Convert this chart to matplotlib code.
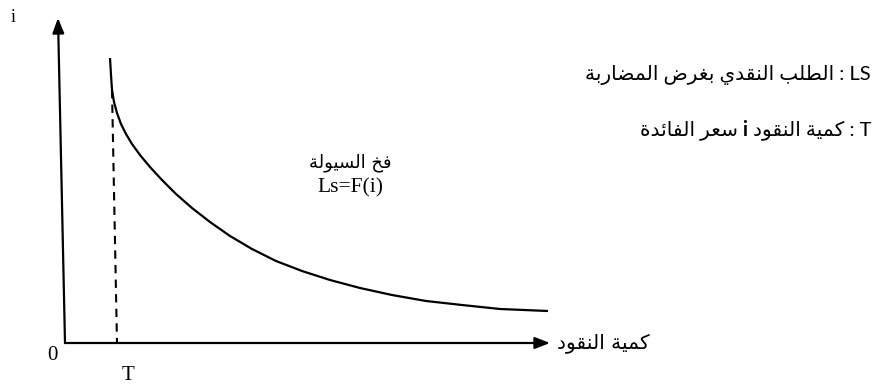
import matplotlib
matplotlib.use("Agg")
import matplotlib.pyplot as plt

# liquidity-trap curve (units = px from the origin)
money = [45, 46, 47, 49, 52, 56, 61, 67, 75, 85, 97, 111, 127, 145, 165, 187, 211,
         237, 265, 295, 327, 361, 397, 435, 483]
rate = [285, 268, 253, 241, 230, 219, 209, 199, 188, 176, 163, 149, 135, 121, 107, 94,
        82, 72, 63, 55, 48, 42, 38, 34, 32]
T_value = 52
axis_len_x = 485
axis_len_y = 325

x_label = "كمية النقود"
y_label = "i"
curve_name = "فخ السيولة"
curve_eq = "Ls=F(i)"
note_ls = "الطلب النقدي بغرض المضاربة"
note_t1 = "كمية النقود"
note_t2 = "سعر الفائدة"

# simple arabic shaping (presentation forms B) + reversal for LTR drawing
FORMS = {
    'ا': (0xFE8D, 0xFE8E, None, None),
    'ب': (0xFE8F, 0xFE90, 0xFE91, 0xFE92),
    'ة': (0xFE93, 0xFE94, None, None),
    'خ': (0xFEA5, 0xFEA6, 0xFEA7, 0xFEA8),
    'د': (0xFEA9, 0xFEAA, None, None),
    'ر': (0xFEAD, 0xFEAE, None, None),
    'س': (0xFEB1, 0xFEB2, 0xFEB3, 0xFEB4),
    'ض': (0xFEBD, 0xFEBE, 0xFEBF, 0xFEC0),
    'ط': (0xFEC1, 0xFEC2, 0xFEC3, 0xFEC4),
    'ع': (0xFEC9, 0xFECA, 0xFECB, 0xFECC),
    'غ': (0xFECD, 0xFECE, 0xFECF, 0xFED0),
    'ف': (0xFED1, 0xFED2, 0xFED3, 0xFED4),
    'ق': (0xFED5, 0xFED6, 0xFED7, 0xFED8),
    'ك': (0xFED9, 0xFEDA, 0xFEDB, 0xFEDC),
    'ل': (0xFEDD, 0xFEDE, 0xFEDF, 0xFEE0),
    'م': (0xFEE1, 0xFEE2, 0xFEE3, 0xFEE4),
    'ن': (0xFEE5, 0xFEE6, 0xFEE7, 0xFEE8),
    'و': (0xFEED, 0xFEEE, None, None),
    'ي': (0xFEF1, 0xFEF2, 0xFEF3, 0xFEF4),
    'ئ': (0xFE89, 0xFE8A, 0xFE8B, 0xFE8C),
}


def ar(text):
    out = []
    for k, c in enumerate(text):
        if c not in FORMS:
            out.append(c)
            continue
        prev = text[k - 1] if k > 0 else None
        nxt = text[k + 1] if k + 1 < len(text) else None
        join_prev = prev in FORMS and FORMS[prev][2] is not None
        join_next = FORMS[c][2] is not None and nxt in FORMS
        iso, fin, ini, med = FORMS[c]
        if join_prev and join_next:
            g = med
        elif join_prev:
            g = fin
        elif join_next:
            g = ini
        else:
            g = iso
        out.append(chr(g))
    return "".join(out)[::-1]


W, H = 887, 388
fig = plt.figure(figsize=(W / 100, H / 100), dpi=100)
ox, oy = 65, 343
ax = fig.add_axes([ox / W, (H - oy) / H, (W - ox) / W, oy / H])
ax.set_xlim(0, W - ox)
ax.set_ylim(0, oy)
ax.axis("off")

arrow = dict(arrowstyle="-|>,head_length=0.9,head_width=0.35", color="black", lw=1.6,
             shrinkA=0, shrinkB=0)
# axes
ax.annotate("", xy=(-7, axis_len_y), xytext=(0, 0), arrowprops=arrow, annotation_clip=False)
ax.annotate("", xy=(axis_len_x, 0), xytext=(0, 0), arrowprops=arrow, annotation_clip=False)

# curve and dashed T line
ax.plot(money, rate, color="black", lw=1.6, solid_capstyle="butt")
ax.plot([money[2], T_value], [rate[2], 0], color="black", lw=1.5, ls=(0, (4, 3)))

serif = "Liberation Serif"
sans = ["Lato", "DejaVu Sans"]
ax.text(-13, -12, "0", fontsize=15, family=serif, ha="center", va="center")
ax.text(T_value + 11, -32, "T", fontsize=15, family=serif, ha="center", va="center")
ax.text(-52, 325, y_label, fontsize=13, family=serif, ha="center", va="center")
ax.text(axis_len_x + 7, 0, ar(x_label), fontsize=14.5, family="DejaVu Sans",
        ha="left", va="center")

ax.text(285, 180, ar(curve_name), fontsize=13, family="DejaVu Sans", ha="center", va="center")
ax.text(285, 155, curve_eq, fontsize=15.5, family=serif, ha="center", va="center")

ax.text(806, 268, ar(note_ls) + " : LS", fontsize=14.5, family=sans, ha="right", va="center")
t1 = ax.text(806, 213, ar(note_t1) + " : T", fontsize=14.5, family=sans,
             ha="right", va="center")
t2 = ax.annotate(" i ", xy=(0, 213), xycoords=(t1, "data"), fontsize=14.5, family=sans,
                 weight="bold", ha="right", va="center")
ax.annotate(ar(note_t2), xy=(0, 213), xycoords=(t2, "data"), fontsize=14.5, family=sans,
            ha="right", va="center")

fig.savefig("out.png", dpi=100)
